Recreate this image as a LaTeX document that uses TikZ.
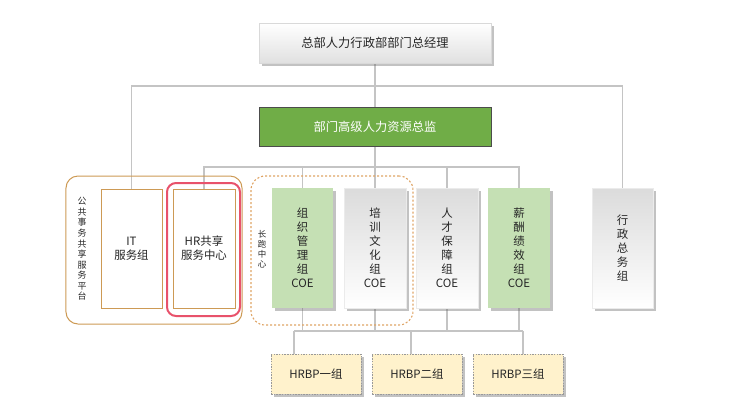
\documentclass[tikz,border=0pt]{standalone}
\usepackage{fontspec}
\setmainfont{Noto Sans CJK SC}
\usetikzlibrary{shadows,backgrounds}
\definecolor{lineg}{HTML}{C4C4C4}
\definecolor{txt}{HTML}{262626}
\definecolor{darkgreen}{HTML}{70AD47}
\definecolor{lightgreen}{HTML}{C5E0B4}
\definecolor{tan}{HTML}{CD9A55}
\definecolor{redframe}{HTML}{E8526B}
\definecolor{dashor}{HTML}{DFA466}
\definecolor{hrbpfill}{HTML}{FFF2CC}
\tikzset{
  conn/.style={draw=lineg, line width=1.3bp},
  shad/.style={drop shadow={shadow xshift=2.5bp, shadow yshift=-2.5bp, opacity=0.4, fill=black!60}},
  topbox/.style={shad, rectangle, top color=white, bottom color=black!12, draw=black!15, line width=0.5bp,
    minimum width=232bp, minimum height=40bp, text=txt, font=\fontsize{12.3}{14}\selectfont},
  greenbox/.style={rectangle, fill=darkgreen, draw=black!70, line width=0.8bp,
    minimum width=232bp, minimum height=39bp, text=white, font=\fontsize{12.3}{14}\selectfont},
  colbox/.style={shad, rectangle, minimum width=61bp, minimum height=120bp, inner sep=0pt,
    align=center, text=txt, font=\fontsize{11.5}{14}\selectfont},
  graybox/.style={colbox, top color=black!14, bottom color=white, draw=black!8, line width=0.4bp},
  lgbox/.style={colbox, fill=lightgreen, draw=none},
  whitebox/.style={rectangle, minimum width=61bp, minimum height=119bp, inner sep=0pt, fill=white,
    draw=tan, line width=1bp, align=center, text=txt, font=\fontsize{11.5}{14}\selectfont},
  hrbpbox/.style={shad, rectangle, minimum width=90bp, minimum height=40bp, fill=hrbpfill,
    draw=black!40, dash pattern=on 1.5bp off 1.2bp, line width=0.8bp, text=txt,
    font=\fontsize{11.5}{14}\selectfont},
  grplabel/.style={align=center, text=txt, inner sep=0pt, font=\fontsize{9}{10.6}\selectfont},
}
\begin{document}
\begin{tikzpicture}[x=1bp,y=-1bp]
\useasboundingbox (0,0) rectangle (753,417);

% group frames
\node[draw=tan, line width=1bp, rounded corners=12bp, minimum width=176bp, minimum height=148bp] (pubframe) at (154,250) {};
\node[draw=dashor, line width=1.1bp, dash pattern=on 2bp off 2bp, rounded corners=14bp, minimum width=162bp, minimum height=149bp] (longframe) at (332,250.5) {};

% boxes
\node[topbox] (top) at (375,43) {总部人力行政部部门总经理};
\node[greenbox] (green) at (375,126.5) {部门高级人力资源总监};

\node[whitebox] (it) at (131.5,248.5) {IT\\服务组};
\node[whitebox, minimum width=62bp] (hr) at (204,248.5) {HR共享\\服务中心};
\node[draw=redframe, line width=2bp, rounded corners=9bp, minimum width=73bp, minimum height=133bp] (redframe) at (203.5,249.5) {};

\node[lgbox] (org) at (302.5,248) {组\\织\\管\\理\\组\\COE};
\node[graybox, minimum width=62bp] (px) at (375,248) {培\\训\\文\\化\\组\\COE};
\node[graybox, minimum width=62bp] (rc) at (447,248) {人\\才\\保\\障\\组\\COE};
\node[lgbox, minimum width=62bp] (xc) at (519,248) {薪\\酬\\绩\\效\\组\\COE};
\node[graybox] (xz) at (622.5,248) {行\\政\\总\\务\\组};

\node[grplabel] (publabel) at (82,249) {公\\共\\事\\务\\共\\享\\服\\务\\平\\台};
\node[grplabel, font=\fontsize{8.5}{10}\selectfont] (longlabel) at (262,249) {长\\跑\\中\\心};

\node[hrbpbox] (hb1) at (316,374) {HRBP一组};
\node[hrbpbox] (hb2) at (417,374) {HRBP二组};
\node[hrbpbox] (hb3) at (518,374) {HRBP三组};

% connectors
\coordinate (h1) at (375,86);
\coordinate (h2) at (375,167);
\coordinate (b1) at (294,331);
\coordinate (b2) at (411,331);
\coordinate (b3) at (523,331);
\begin{scope}[on background layer]
\draw[conn] (top.south) -- (green.north);
\draw[conn] (it.north) |- (h1) -| (xz.north);
\draw[conn] (green.south) -- (px.north);
\draw[conn] (hr.north) |- (h2) -| (xc.north);
\draw[conn] (org.north) -- (org.north |- h2);
\draw[conn] (rc.north) -- (rc.north |- h2);
\draw[conn] (org.south) -- (org.south |- b1);
\draw[conn] (px.south) -- (px.south |- b1);
\draw[conn] (rc.south) -- (rc.south |- b1);
\draw[conn] (xc.south) -- (xc.south |- b1);
\draw[conn] (b1) -- (b3);
\draw[conn] (b1) -- (b1 |- hb1.north);
\draw[conn] (b2) -- (b2 |- hb2.north);
\draw[conn] (b3) -- (b3 |- hb3.north);
\end{scope}
\end{tikzpicture}
\end{document}
